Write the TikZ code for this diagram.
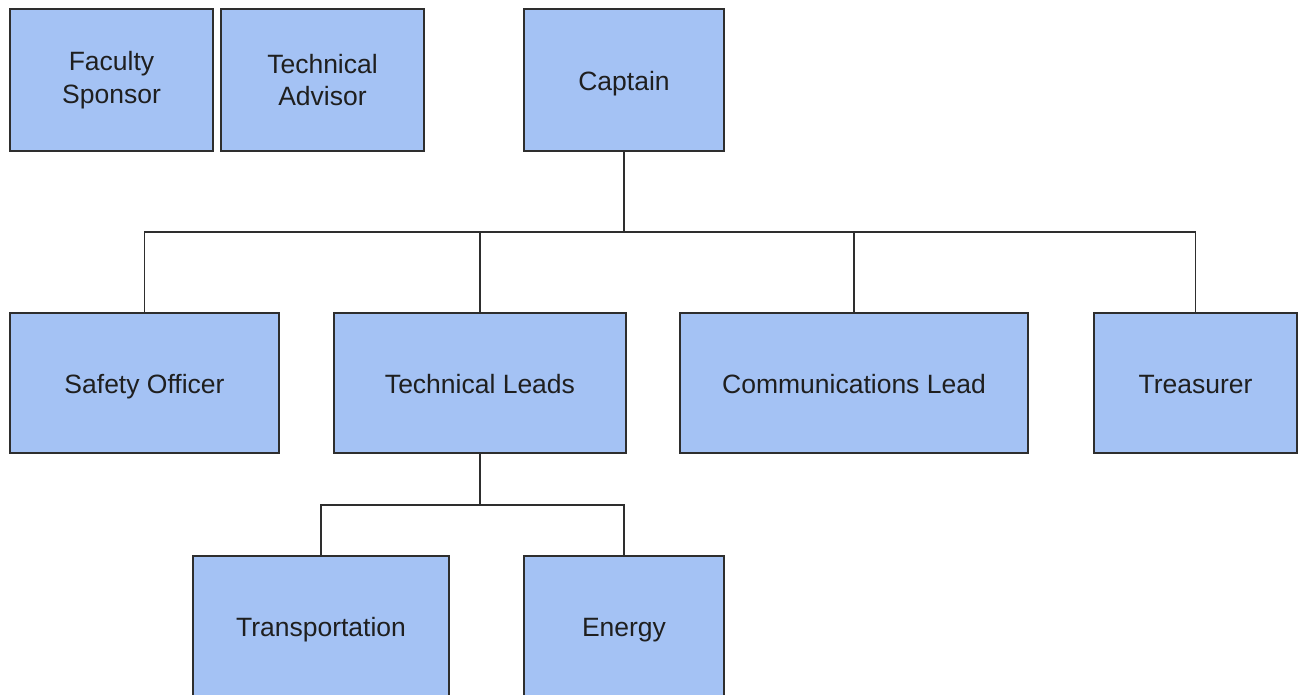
\documentclass[tikz,border=0pt]{standalone}
\usepackage{fontspec}
\setmainfont{Liberation Sans}
\definecolor{boxblue}{HTML}{A4C2F4}
\definecolor{linegray}{HTML}{2E2E2E}

\begin{document}
\begin{tikzpicture}[x=1pt,y=-1pt]

        \useasboundingbox (0,0) rectangle (1299,694);

        \begin{scope}[every node/.style={rectangle,draw=linegray,line width=1.8pt,fill=boxblue,
            text=black!88,align=center,minimum height=140pt,inner sep=0pt,
            text height=27pt,text depth=7pt,
            font=\fontsize{26.5}{32.5}\selectfont}]
          \node[minimum width=203pt,minimum height=142pt,text height=,text depth=] (1)  at (111.5,80)  {Faculty\\Sponsor};
          \node[minimum width=203pt,minimum height=142pt,text height=,text depth=] (2)  at (322.5,80)  {Technical\\Advisor};
          \node[minimum width=200pt,minimum height=142pt] (3)  at (624,80)  {Captain};
          \node[minimum width=269pt] (4)  at (144.5,383)  {Safety Officer};
          \node[minimum width=292pt] (5)  at (480,383)  {Technical Leads};
          \node[minimum width=348pt] (6)  at (854,383)  {Communications Lead};
          \node[minimum width=203pt] (7)  at (1195.5,383)  {Treasurer};
          \node[minimum width=256pt] (8)  at (321,626)  {Transportation};
          \node[minimum width=200pt] (9)  at (624,626)  {Energy};
        \end{scope}

        \coordinate (b1) at (624,232);
        \coordinate (b2) at (480,505);

        \begin{scope}[line width=1.8pt,draw=linegray]
          \draw (3.south) -- (b1);
          \draw (b1) -| (4.north);
          \draw (b1) -| (5.north);
          \draw (b1) -| (6.north);
          \draw (b1) -| (7.north);
          \draw (5.south) -- (b2);
          \draw (b2) -| (8.north);
          \draw (b2) -| (9.north);
        \end{scope}

      \end{tikzpicture}
\end{document}
